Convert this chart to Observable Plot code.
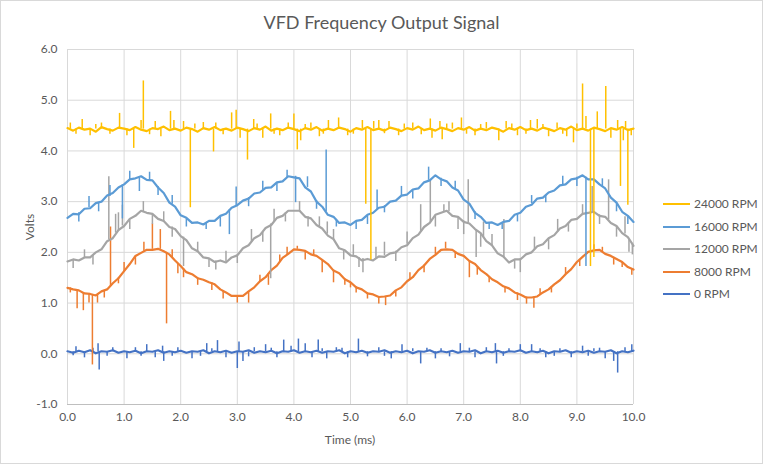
<!DOCTYPE html>
<html><head><meta charset="utf-8">
<script src="https://cdn.jsdelivr.net/npm/d3@7"></script>
<script src="https://cdn.jsdelivr.net/npm/@observablehq/plot@0.6"></script>
<style>
body{margin:0;background:#fff;font-family:Lato,"Open Sans",sans-serif;}
#chart{position:relative;width:763px;height:464px;overflow:hidden;background:#fff;}
#chart svg{position:absolute;left:0;top:0;}
.abs{position:absolute;color:#595959;white-space:nowrap;}
#border{position:absolute;left:0;top:0;width:763px;height:464px;box-sizing:border-box;border:1px solid #d9d9d9;pointer-events:none;}
#title{left:0;width:763px;top:11px;text-align:center;font-size:18px;line-height:22px;}
#ylab{left:29px;top:227px;font-size:12px;transform:translate(-50%,-50%) rotate(-90deg);}
#xlab{left:350px;top:439px;font-size:12px;transform:translate(-50%,-50%);}
.leg{left:663px;font-size:12px;line-height:14px;transform:translateY(-50%);display:flex;align-items:center;}
.leg span.sw{display:inline-block;width:27px;height:2px;margin-right:4px;}
</style></head>
<body><div id="chart"></div>
<script>
// ---- Data ----
const seriesNames = ["0 RPM", "8000 RPM", "12000 RPM", "16000 RPM", "24000 RPM"];
const seriesColors = ["#4472C4", "#ED7D31", "#A5A5A5", "#5B9BD5", "#FFC000"];
const legendOrder = ["24000 RPM", "16000 RPM", "12000 RPM", "8000 RPM", "0 RPM"];
const xTicks = [0,1,2,3,4,5,6,7,8,9,10];
const yTicks = [-1,0,1,2,3,4,5,6];

// sample times (ms), every 0.1 ms
const timeMs = d3.range(0, 101).map(i => i / 10);

const rpm24000 = [
4.45,4.40,4.46,4.42,4.44,4.38,4.47,4.43,4.40,4.46,
4.44,4.41,4.47,4.42,4.39,4.45,4.43,4.48,4.41,4.44,
4.40,4.46,4.43,4.38,4.45,4.42,4.47,4.41,4.44,4.40,
4.46,4.43,4.39,4.45,4.42,4.48,4.40,4.44,4.41,4.46,
4.43,4.39,4.45,4.42,4.47,4.40,4.44,4.41,4.46,4.43,
4.38,4.45,4.42,4.47,4.41,4.44,4.40,4.46,4.43,4.39,
4.45,4.42,4.48,4.41,4.44,4.40,4.46,4.43,4.39,4.45,
4.42,4.47,4.40,4.44,4.41,4.46,4.43,4.38,4.45,4.42,
4.47,4.41,4.44,4.40,4.46,4.43,4.39,4.45,4.42,4.48,
4.41,4.44,4.40,4.46,4.43,4.39,4.45,4.42,4.47,4.41,
4.44];
const rpm16000 = [
2.68,2.76,2.75,2.86,2.87,2.97,3.0,3.12,3.17,3.28,
3.34,3.44,3.46,3.5,3.43,3.42,3.28,3.17,2.98,2.9,
2.73,2.68,2.58,2.59,2.55,2.62,2.62,2.72,2.76,2.88,
2.93,3.02,3.06,3.16,3.18,3.27,3.28,3.38,3.4,3.5,
3.48,3.46,3.28,3.2,3.0,2.9,2.74,2.7,2.58,2.59,
2.54,2.62,2.64,2.74,2.78,2.88,2.9,3.0,3.02,3.12,
3.14,3.24,3.26,3.38,3.42,3.52,3.44,3.4,3.28,3.22,
3.04,2.96,2.78,2.7,2.58,2.59,2.54,2.6,2.62,2.74,
2.78,2.9,2.94,3.06,3.08,3.18,3.22,3.32,3.34,3.44,
3.46,3.52,3.44,3.44,3.34,3.26,3.08,2.98,2.8,2.72,
2.6];
const rpm12000 = [
1.82,1.86,1.84,1.9,1.9,2.0,2.06,2.22,2.28,2.44,
2.52,2.66,2.72,2.82,2.78,2.76,2.66,2.62,2.5,2.46,
2.32,2.24,2.08,2.02,1.9,1.88,1.81,1.84,1.8,1.9,
1.94,2.08,2.14,2.28,2.34,2.48,2.54,2.68,2.72,2.82,
2.82,2.82,2.7,2.67,2.54,2.47,2.33,2.26,2.08,2.04,
1.94,1.92,1.84,1.87,1.84,1.92,1.91,1.98,2.0,2.1,
2.14,2.28,2.35,2.5,2.58,2.74,2.78,2.82,2.72,2.7,
2.6,2.57,2.46,2.38,2.22,2.14,1.98,1.92,1.8,1.86,
1.86,1.96,2.0,2.12,2.16,2.28,2.34,2.47,2.52,2.64,
2.66,2.76,2.78,2.8,2.72,2.7,2.58,2.52,2.38,2.3,
2.13];
const rpm8000 = [
1.3,1.27,1.25,1.19,1.18,1.15,1.23,1.27,1.39,1.49,
1.63,1.77,1.93,1.99,2.05,2.05,2.07,2.02,1.96,1.84,
1.73,1.61,1.57,1.49,1.46,1.41,1.37,1.27,1.21,1.14,
1.14,1.14,1.23,1.31,1.43,1.51,1.65,1.74,1.89,1.97,
2.06,2.05,2.03,1.96,1.93,1.85,1.77,1.64,1.59,1.47,
1.41,1.31,1.27,1.19,1.17,1.12,1.13,1.15,1.25,1.31,
1.43,1.51,1.65,1.74,1.87,1.95,2.05,2.06,2.05,1.97,
1.93,1.83,1.77,1.65,1.57,1.47,1.41,1.33,1.29,1.21,
1.17,1.11,1.11,1.13,1.21,1.27,1.37,1.45,1.57,1.67,
1.81,1.91,2.01,2.04,2.05,1.97,1.93,1.87,1.81,1.71,
1.66];
const rpm0 = [
0.05,0.02,0.06,0.03,0.07,0.01,0.05,0.04,0.07,0.02,
0.05,0.03,0.06,0.01,0.05,0.04,0.07,0.02,0.05,0.03,
0.06,0.02,0.05,0.04,0.07,0.01,0.05,0.03,0.06,0.02,
0.05,0.04,0.07,0.02,0.05,0.03,0.06,0.01,0.05,0.04,
0.07,0.02,0.05,0.03,0.06,0.02,0.05,0.04,0.07,0.01,
0.05,0.03,0.06,0.02,0.05,0.04,0.07,0.02,0.05,0.03,
0.06,0.01,0.05,0.04,0.07,0.02,0.05,0.03,0.06,0.02,
0.05,0.04,0.07,0.01,0.05,0.03,0.06,0.02,0.05,0.04,
0.07,0.02,0.05,0.03,0.06,0.01,0.05,0.04,0.07,0.02,
0.05,0.03,0.06,0.02,0.05,0.04,0.07,0.01,0.05,0.03,
0.06];

// narrow glitches: [time ms, from volts, to volts]
const spikes24000 = [[0.05,4.43,4.55],[0.15,4.43,4.33],[0.26,4.43,4.62],[0.4,4.43,4.3],[0.5,4.43,4.52],[0.6,4.43,4.55],[0.75,4.43,4.33],[0.92,4.43,4.74],[1.05,4.43,4.3],[1.17,4.43,4.05],[1.3,4.43,4.6],[1.34,4.43,5.38],[1.45,4.43,4.32],[1.55,4.43,4.58],[1.65,4.43,4.28],[1.82,4.43,4.78],[1.88,4.43,4.6],[2.05,4.43,4.58],[2.17,4.43,2.88],[2.25,4.43,4.53],[2.4,4.43,4.56],[2.58,4.43,3.98],[2.62,4.43,4.55],[2.75,4.43,4.32],[2.9,4.43,4.75],[2.98,4.43,4.8],[3.05,4.43,4.25],[3.18,4.43,3.82],[3.29,4.43,4.62],[3.35,4.43,4.53],[3.45,4.43,4.25],[3.59,4.43,4.73],[3.65,4.43,4.33],[3.75,4.43,4.3],[3.9,4.43,4.55],[4.0,4.43,4.73],[4.06,4.43,4.02],[4.12,4.43,4.2],[4.2,4.43,4.52],[4.3,4.43,4.55],[4.45,4.43,4.28],[4.52,4.43,4.33],[4.61,4.43,4.6],[4.79,4.43,4.65],[4.95,4.43,4.3],[5.05,4.43,4.33],[5.21,4.43,4.6],[5.27,4.43,2.95],[5.36,4.43,1.85],[5.41,4.43,4.58],[5.5,4.43,4.6],[5.6,4.43,4.34],[5.68,4.43,4.58],[5.85,4.43,4.3],[5.95,4.43,4.53],[6.1,4.43,4.55],[6.25,4.43,4.32],[6.41,4.43,4.63],[6.44,4.43,4.25],[6.58,4.43,4.58],[6.62,4.43,4.22],[6.7,4.43,4.53],[6.8,4.43,4.55],[6.96,4.43,4.65],[7.05,4.43,4.33],[7.2,4.43,4.3],[7.3,4.43,4.52],[7.4,4.43,4.56],[7.62,4.43,4.2],[7.75,4.43,4.58],[7.85,4.43,4.53],[7.95,4.43,4.3],[8.1,4.43,4.33],[8.18,4.43,4.6],[8.3,4.43,4.62],[8.4,4.43,4.52],[8.5,4.43,4.28],[8.65,4.43,4.55],[8.75,4.43,4.33],[8.82,4.43,4.28],[8.94,4.43,4.16],[9.0,4.43,4.53],[9.1,4.43,5.32],[9.16,4.43,4.68],[9.24,4.43,1.72],[9.3,4.43,1.9],[9.36,4.43,4.77],[9.51,4.43,5.27],[9.6,4.43,4.25],[9.72,4.43,4.6],[9.77,4.43,3.3],[9.82,4.43,4.2],[9.86,4.43,4.58],[9.9,4.43,2.93],[9.96,4.43,4.3]];
const spikes16000 = [[0.2,2.78,2.6],[0.38,2.88,3.1],[0.55,2.98,2.8],[0.75,3.1,3.32],[0.97,3.33,2.66],[1.1,3.42,3.6],[1.27,3.48,3.2],[1.45,3.42,3.58],[1.6,3.3,3.12],[1.85,2.95,3.12],[2.1,2.66,2.5],[2.45,2.58,2.45],[2.7,2.7,2.5],[2.86,2.84,2.35],[2.98,2.92,3.29],[3.2,3.08,2.9],[3.45,3.22,3.4],[3.7,3.36,3.2],[3.88,3.46,3.62],[4.03,3.5,2.98],[4.24,3.28,3.49],[4.4,3.02,2.85],[4.57,2.8,4.02],[4.75,2.65,2.5],[5.1,2.6,2.45],[5.3,2.72,2.55],[5.47,2.84,3.23],[5.6,2.92,2.78],[5.9,3.1,3.3],[6.1,3.22,3.05],[6.38,3.42,3.68],[6.6,3.46,3.3],[6.85,3.25,3.4],[7.2,2.8,2.65],[7.45,2.58,2.45],[7.68,2.57,2.45],[7.95,2.76,2.6],[8.2,2.96,3.12],[8.45,3.12,2.98],[8.75,3.33,3.5],[9.0,3.48,3.3],[9.16,3.48,1.72],[9.45,3.3,3.45],[9.7,2.96,2.8],[9.9,2.7,2.55]];
const spikes12000 = [[0.1,1.84,1.68],[0.3,1.88,2.05],[0.45,1.95,1.75],[0.73,2.25,3.49],[0.85,2.38,2.75],[0.9,2.42,2.78],[0.97,2.52,2.93],[1.1,2.64,2.45],[1.34,2.8,3.0],[1.5,2.74,2.55],[1.7,2.6,2.8],[1.85,2.5,2.3],[2.05,2.3,1.72],[2.3,2.0,2.2],[2.5,1.86,1.7],[2.62,1.83,1.65],[2.8,1.82,2.02],[3.0,1.96,1.78],[3.25,2.2,2.45],[3.45,2.4,2.2],[3.59,2.56,1.48],[3.65,2.6,2.85],[3.85,2.78,2.6],[4.1,2.8,3.0],[4.25,2.7,2.5],[4.45,2.5,2.7],[4.59,2.36,2.6],[4.7,2.24,2.45],[4.88,2.05,1.85],[5.05,1.94,2.15],[5.15,1.9,1.7],[5.22,1.88,1.6],[5.45,1.88,2.1],[5.6,1.93,2.2],[5.8,2.02,1.82],[6.0,2.16,2.4],[6.24,2.4,2.94],[6.41,2.6,3.43],[6.5,2.72,2.5],[6.65,2.8,2.94],[6.74,2.8,3.0],[6.9,2.68,2.45],[7.0,2.62,2.35],[7.08,2.58,3.43],[7.22,2.45,1.9],[7.3,2.36,2.1],[7.35,2.3,2.6],[7.5,2.12,2.35],[7.71,1.9,2.65],[7.9,1.84,1.67],[8.0,1.88,1.6],[8.25,2.05,2.3],[8.5,2.26,2.05],[8.66,2.4,2.65],[8.85,2.58,2.4],[9.1,2.74,2.94],[9.27,2.8,3.3],[9.4,2.74,2.55],[9.56,2.64,3.43],[9.7,2.5,2.3],[9.85,2.36,2.7],[9.92,2.25,2.0],[9.98,2.18,1.95]];
const spikes8000 = [[0.05,1.3,1.2],[0.17,1.25,0.89],[0.28,1.2,0.85],[0.38,1.17,1.0],[0.44,1.17,-0.22],[0.53,1.17,1.0],[0.65,1.24,1.1],[0.76,1.34,2.5],[0.9,1.5,1.38],[1.0,1.62,1.8],[1.2,1.92,1.75],[1.35,2.02,2.2],[1.5,2.06,2.56],[1.64,2.06,2.45],[1.75,2.0,0.59],[1.85,1.9,2.05],[1.95,1.78,1.58],[2.05,1.68,1.5],[2.3,1.5,1.35],[2.55,1.4,1.25],[2.75,1.24,1.08],[3.0,1.13,1.0],[3.2,1.22,1.0],[3.4,1.42,1.55],[3.55,1.58,1.35],[3.75,1.8,1.95],[3.88,1.96,2.1],[4.06,2.06,2.12],[4.2,2.02,1.85],[4.35,1.95,2.05],[4.5,1.86,1.6],[4.7,1.65,1.4],[4.9,1.48,1.35],[5.0,1.4,1.3],[5.1,1.32,1.2],[5.3,1.2,1.08],[5.5,1.13,0.98],[5.62,1.12,0.95],[5.8,1.24,1.12],[6.05,1.46,1.6],[6.3,1.75,1.6],[6.5,1.96,2.1],[6.68,2.07,2.2],[6.85,2.0,1.88],[7.1,1.84,1.5],[7.24,1.72,1.55],[7.45,1.52,1.4],[7.73,1.32,1.2],[7.95,1.2,1.05],[8.11,1.12,0.98],[8.24,1.12,0.9],[8.35,1.16,1.28],[8.55,1.32,1.2],[8.8,1.56,1.7],[9.05,1.86,1.72],[9.3,2.05,2.15],[9.45,2.0,2.1],[9.65,1.9,1.75],[9.8,1.8,1.7],[9.97,1.68,1.55]];
const spikes0 = [[0.1,0.04,-0.04],[0.15,0.04,0.14],[0.3,0.04,-0.08],[0.45,0.04,0.11],[0.54,0.04,0.2],[0.56,0.04,-0.32],[0.7,0.04,-0.05],[0.8,0.04,0.12],[1.05,0.04,-0.1],[1.2,0.04,0.12],[1.3,0.04,-0.05],[1.4,0.04,0.18],[1.55,0.04,-0.08],[1.68,0.04,0.15],[1.7,0.04,-0.15],[1.85,0.04,-0.05],[1.95,0.04,0.12],[2.2,0.04,-0.1],[2.35,0.04,-0.05],[2.46,0.04,0.2],[2.55,0.04,0.1],[2.65,0.04,0.26],[2.8,0.04,-0.08],[3.0,0.04,-0.29],[3.03,0.04,0.23],[3.1,0.04,-0.15],[3.2,0.04,-0.06],[3.3,0.04,0.12],[3.5,0.04,0.18],[3.6,0.04,0.11],[3.7,0.04,-0.08],[3.82,0.04,0.27],[3.95,0.04,0.15],[4.08,0.04,0.29],[4.2,0.04,0.2],[4.32,0.04,-0.08],[4.43,0.04,0.27],[4.5,0.04,0.1],[4.58,0.04,-0.1],[4.75,0.04,0.12],[4.85,0.04,0.11],[4.95,0.04,-0.08],[5.14,0.04,0.29],[5.3,0.04,-0.06],[5.5,0.04,0.12],[5.6,0.04,-0.05],[5.72,0.04,-0.1],[5.91,0.04,0.18],[6.1,0.04,0.1],[6.24,0.04,-0.2],[6.35,0.04,0.11],[6.5,0.04,-0.1],[6.6,0.04,0.1],[6.75,0.04,-0.06],[6.94,0.04,0.2],[7.1,0.04,0.11],[7.2,0.04,-0.08],[7.4,0.04,0.12],[7.56,0.04,0.2],[7.58,0.04,-0.2],[7.7,0.04,-0.05],[7.8,0.04,0.1],[8.0,0.04,0.18],[8.2,0.04,0.18],[8.35,0.04,0.1],[8.45,0.04,-0.08],[8.6,0.04,-0.05],[8.7,0.04,0.1],[8.9,0.04,-0.08],[9.1,0.04,0.15],[9.2,0.04,-0.05],[9.3,0.04,0.1],[9.4,0.04,0.11],[9.5,0.04,-0.1],[9.65,0.04,-0.15],[9.72,0.04,-0.38],[9.85,0.04,0.12],[9.97,0.04,0.18]];

// ---- Build tables ----
const valuesBySeries = {"0 RPM": rpm0, "8000 RPM": rpm8000, "12000 RPM": rpm12000, "16000 RPM": rpm16000, "24000 RPM": rpm24000};
const spikesBySeries = {"0 RPM": spikes0, "8000 RPM": spikes8000, "12000 RPM": spikes12000, "16000 RPM": spikes16000, "24000 RPM": spikes24000};
const rows = [];
const glitchRows = [];
for (const s of seriesNames) {
  valuesBySeries[s].forEach((v, i) => rows.push({series: s, t: timeMs[i], v}));
  spikesBySeries[s].forEach(([t, a, b]) => glitchRows.push({series: s, t, a, b}));
}

const textColor = "#595959";
const plot = Plot.plot({
  width: 763, height: 464,
  marginLeft: 67, marginRight: 130, marginTop: 49, marginBottom: 60,
  x: {domain: [0, 10]},
  y: {domain: [-1, 6]},
  color: {domain: seriesNames, range: seriesColors},
  style: {fontFamily: "Lato, 'Open Sans', sans-serif", fontSize: "12px", color: textColor, background: "transparent"},
  marks: [
    Plot.gridX(xTicks, {stroke: "#d9d9d9", strokeOpacity: 1}),
    Plot.gridY(yTicks, {stroke: "#d9d9d9", strokeOpacity: 1}),
    Plot.ruleY([-1], {stroke: "#bfbfbf", strokeWidth: 1}),
    Plot.axisX(xTicks, {tickSize: 0, tickPadding: 8, tickFormat: d => d.toFixed(1), label: null, fill: textColor, fontSize: 12}),
    Plot.axisY(yTicks, {tickSize: 0, tickPadding: 10, tickFormat: d => d.toFixed(1), label: null, fill: textColor, fontSize: 12}),
    ...seriesNames.flatMap(s => [
      Plot.line(rows.filter(r => r.series === s), {x: "t", y: "v", stroke: "series", strokeWidth: 2.2, strokeLinejoin: "round"}),
      Plot.ruleX(glitchRows.filter(r => r.series === s), {x: "t", y1: "a", y2: "b", stroke: "series", strokeWidth: 1.5})
    ])
  ]
});

const chart = document.getElementById("chart");
chart.appendChild(plot);
const add = (id, cls, text, style) => {
  const d = document.createElement("div");
  if (id) d.id = id;
  d.className = cls; d.textContent = text;
  if (style) Object.assign(d.style, style);
  chart.appendChild(d); return d;
};
add("title", "abs", "VFD Frequency Output Signal");
add("ylab", "abs", "Volts");
add("xlab", "abs", "Time (ms)");
const legendY = [204, 227, 249, 272, 294];
legendOrder.forEach((s, i) => {
  const d = add(null, "abs leg", "", {top: legendY[i] + "px"});
  const sw = document.createElement("span");
  sw.className = "sw"; sw.style.background = seriesColors[seriesNames.indexOf(s)];
  d.appendChild(sw);
  d.appendChild(document.createTextNode(s));
});
add("border", "", "");
</script>
</body></html>
